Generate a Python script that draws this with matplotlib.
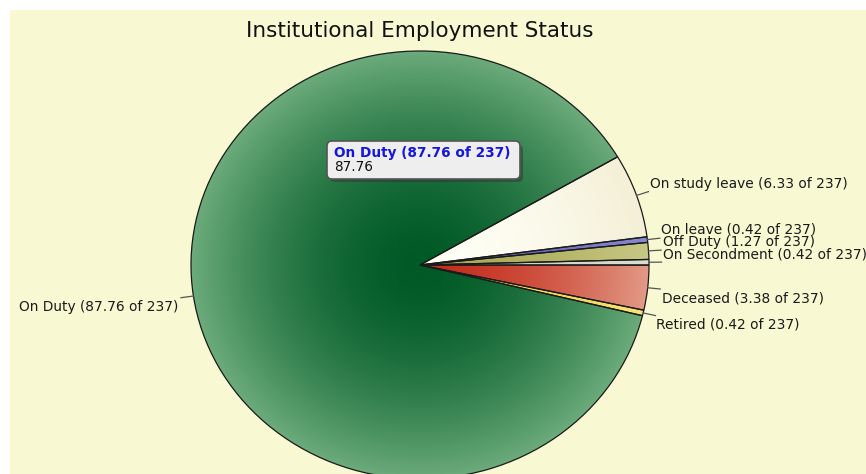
import numpy as np
import matplotlib
matplotlib.use("Agg")
import matplotlib.pyplot as plt
from matplotlib.colors import to_rgb
from matplotlib.patches import FancyBboxPatch, Rectangle

# ---- data ----
categories = ["On Duty", "On study leave", "On leave", "Off Duty",
              "On Secondment", "Deceased", "Retired"]
percent = [87.76, 6.33, 0.42, 1.27, 0.42, 3.38, 0.42]
total = 237
center_colors = ["#005A26", "#FFFFF6", "#5F5FB8", "#A9A955", "#D0D0C0", "#C42E1E", "#F2D040"]
edge_colors = ["#6CAB7B", "#F4EFD6", "#8A8AD0", "#C8C886", "#DEDED0", "#E29A86", "#F8E27A"]

W, H = 866, 474
fig = plt.figure(figsize=(W / 100, H / 100), dpi=100)
fig.patch.set_facecolor("white")

# background panel (pixel overlay axes)
ov = fig.add_axes([0, 0, 1, 1], zorder=0)
ov.set_xlim(0, W)
ov.set_ylim(H, 0)
ov.axis("off")
ov.add_patch(Rectangle((10, 10), W - 10, H - 10, facecolor="#F8F8D2", edgecolor="none"))

# pie axes: ellipse spanning x 191..649, y 51..479 (pixels)
cx, cy, rx, ry = 420, 265, 229, 214
pax = fig.add_axes([(cx - rx) / W, (H - (cy + ry)) / H, 2 * rx / W, 2 * ry / H], zorder=1)
start = -13.7
wedges, _ = pax.pie(percent, startangle=start, counterclock=False, radius=1,
                    colors=center_colors,
                    wedgeprops=dict(edgecolor="#1a1a1a", linewidth=0.9))
pax.set_aspect("auto")
pax.axis("off")

# radial gradients clipped to wedges
n = 400
xs = np.linspace(-1, 1, n)
X, Y = np.meshgrid(xs, xs)
R = np.clip(np.sqrt(X ** 2 + Y ** 2), 0, 1)
for w, c0, c1 in zip(wedges, center_colors, edge_colors):
    a, b = np.array(to_rgb(c0)), np.array(to_rgb(c1))
    t = R[..., None] ** 1.7
    img = a * (1 - t) + b * t
    im = pax.imshow(img, extent=(-1, 1, -1, 1), origin="lower", zorder=2,
                    interpolation="bilinear", aspect="auto")
    im.set_clip_path(w)
    w.set_facecolor("none")
    w.set_zorder(3)
pax.set_xlim(-1, 1)
pax.set_ylim(-1, 1)

# leader lines (from wedge mid-angles)
for w in wedges:
    mid = np.deg2rad((w.theta1 + w.theta2) / 2)
    x0, y0 = np.cos(mid), np.sin(mid)
    pax.plot([x0, x0 * 1.055], [y0, y0 * 1.055], color="#555555", lw=0.9, clip_on=False, zorder=4)

# labels (pixel positions)
label_pos = {
    "On Duty": (178, 307, "right"),
    "On study leave": (650, 184, "left"),
    "On leave": (661, 229, "left"),
    "Off Duty": (663, 242, "left"),
    "On Secondment": (663, 255, "left"),
    "Deceased": (662, 299, "left"),
    "Retired": (656, 325, "left"),
}
for cat, p in zip(categories, percent):
    x, y, ha = label_pos[cat]
    ov.text(x, y, f"{cat} ({p:.2f} of {total})", ha=ha, va="center", fontsize=9.9,
            color="#1a1a1a", family="DejaVu Sans", zorder=5)

# title
ov.text(420, 31, "Institutional Employment Status", ha="center", va="center",
        fontsize=15.5, color="#111111", family="DejaVu Sans")

# tooltip
tov = fig.add_axes([0, 0, 1, 1], zorder=5)
tov.set_xlim(0, W)
tov.set_ylim(H, 0)
tov.axis("off")
tov.add_patch(FancyBboxPatch((330, 145), 193, 37, boxstyle="round,pad=0,rounding_size=5",
                             facecolor="#333333", edgecolor="none", alpha=0.5))
tov.add_patch(FancyBboxPatch((327, 141), 193, 38, boxstyle="round,pad=0,rounding_size=5",
                             facecolor="#EEEEEE", edgecolor="#555555", linewidth=1.2))
tov.text(334, 153, f"{categories[0]} ({percent[0]:.2f} of {total})", ha="left", va="center",
         fontsize=9.8, fontweight="bold", color="#1515E0", family="DejaVu Sans")
tov.text(334, 167, f"{percent[0]:.2f}", ha="left", va="center", fontsize=9.8,
         color="#111111", family="DejaVu Sans")

fig.savefig("out.png", dpi=100, facecolor=fig.get_facecolor())
